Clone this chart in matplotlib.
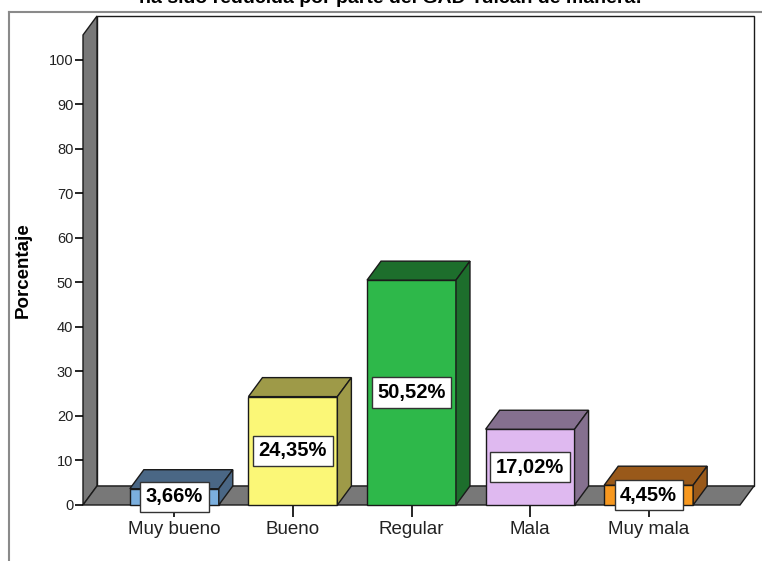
import matplotlib.pyplot as plt
from matplotlib.patches import Polygon
from matplotlib.lines import Line2D

# === Data ===
categories = ["Muy bueno", "Bueno", "Regular", "Mala", "Muy mala"]
porcentajes = [3.66, 24.35, 50.52, 17.02, 4.45]
etiquetas = ["3,66%", "24,35%", "50,52%", "17,02%", "4,45%"]
y_ticks = [0, 10, 20, 30, 40, 50, 60, 70, 80, 90, 100]

front_colors = ["#7bafde", "#fbf777", "#2eb84a", "#dfb9f0", "#f7981f"]
dark_colors = ["#4a6785", "#9e9a48", "#1d6e2c", "#85708f", "#99591a"]

plt.rcParams['font.family'] = ['Liberation Sans', 'DejaVu Sans']

W, H = 762, 561
fig = plt.figure(figsize=(W / 100, H / 100), dpi=100)

# front plane of the 3D box in pixel coords
left_px, right_px, bottom_px, top_px = 83, 740, 505, 35
ax = fig.add_axes([left_px / W, 1 - bottom_px / H,
                   (right_px - left_px) / W, (bottom_px - top_px) / H])

x0, x1 = -0.77, 4.77
ytop = 105.6
ax.set_xlim(x0, x1)
ax.set_ylim(0, ytop)

# depth offset (data units)
DX = 14 / 118.5
DY = 19 / 4.45
bar_w = 0.75
wall_gray = "#787878"
edge = "#1a1a1a"

def poly(pts, fc, z=1):
    p = Polygon(pts, closed=True, facecolor=fc, edgecolor=edge,
                linewidth=1.0, clip_on=False, zorder=z)
    ax.add_patch(p)

# back wall, left wall, floor
poly([(x0 + DX, DY), (x1 + DX, DY), (x1 + DX, ytop + DY), (x0 + DX, ytop + DY)], "white")
poly([(x0, 0), (x0 + DX, DY), (x0 + DX, ytop + DY), (x0, ytop)], wall_gray)
poly([(x0, 0), (x1, 0), (x1 + DX, DY), (x0 + DX, DY)], wall_gray)

# bars
for i, v in enumerate(porcentajes):
    l, r = i - bar_w / 2, i + bar_w / 2
    poly([(l, 0), (r, 0), (r, v), (l, v)], front_colors[i], z=2)
    poly([(l, v), (r, v), (r + DX, v + DY), (l + DX, v + DY)], dark_colors[i], z=2)
    poly([(r, 0), (r + DX, DY), (r + DX, v + DY), (r, v)], dark_colors[i], z=2)
    ax.text(i, v / 2, etiquetas[i], ha="center", va="center", fontsize=14.5,
            fontweight="bold", zorder=4,
            bbox=dict(boxstyle="square,pad=0.28", facecolor="white",
                      edgecolor="#333333", linewidth=1))

# axes styling
ax.patch.set_visible(False)
for s in ax.spines.values():
    s.set_visible(False)
ax.set_yticks(y_ticks)
ax.set_xticks(range(len(categories)))
ax.set_xticklabels(categories, fontsize=13.5, color="#222222")
ax.tick_params(axis="y", direction="out", length=6, width=1.2, pad=1,
               labelsize=10.5, labelcolor="#222222")
ax.tick_params(axis="x", direction="out", length=8.5, width=1.2, pad=3)
ax.set_ylabel("Porcentaje", fontsize=13.5, fontweight="bold")
ax.yaxis.set_label_coords((32 - left_px) / (right_px - left_px), 0.5)

# outer frame (partially visible)
fig.add_artist(Line2D([9 / W, 9 / W], [0, 1 - 12 / H], color="#8a8a8a", linewidth=1.5))
fig.add_artist(Line2D([9 / W, 1], [1 - 12 / H, 1 - 12 / H], color="#8a8a8a", linewidth=1.5))

# title, cut off at top
fig.text(390 / W, 1 - 3 / H, "ha sido reducida por parte del GAD Tulcán de manera:",
         ha="center", va="baseline", fontsize=14, fontweight="bold")

fig.savefig("out.png", dpi=100)
